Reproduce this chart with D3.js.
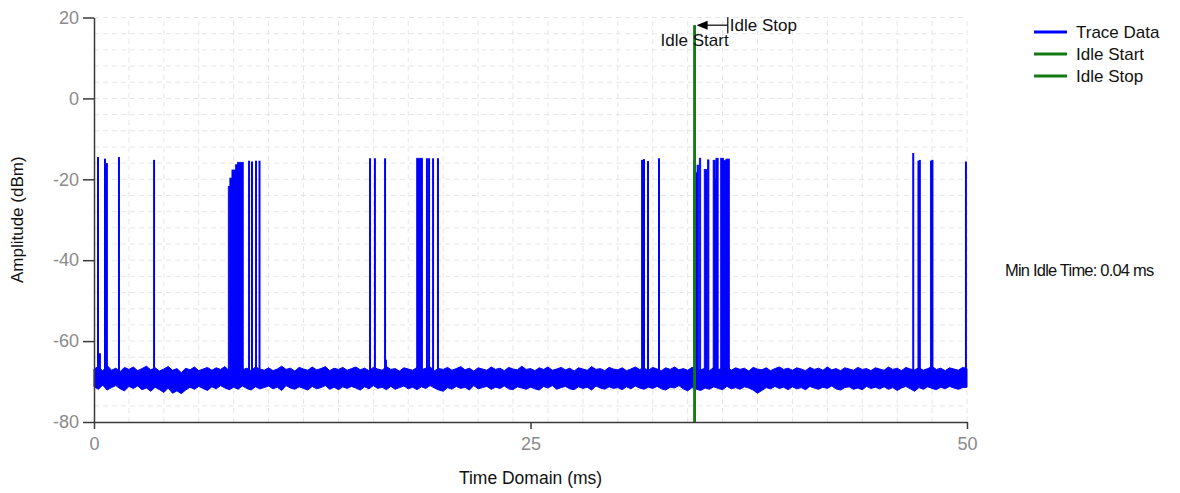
<!DOCTYPE html>
<html>
<head>
    <meta charset="utf-8">
    <title>Idle Trace</title>
    <style>
        body { margin: 0; background: #fff; }
        svg { font-family: "Liberation Sans", Arial, sans-serif; }
        .grid line { stroke: #e6e6e6; stroke-width: 1; stroke-dasharray: 5,4; }
        .axis path, .axis line { stroke: #3a3a3a; stroke-width: 1.5; }
        .axis text { fill: #8a8a8a; font-size: 18px; }
    </style>
</head>
<body>
<div id="chart"></div>

<script src="https://d3js.org/d3.v7.min.js"></script>
<script>
    // noise floor envelope, one value every 0.25 ms (t = 0 .. 50)
    const noiseStep = 0.25;
    const noiseHigh = [
        -66.9, -66.3, -67.4, -66.0, -67.2, -66.7, -67.5, -66.5, -67.0, -66.4, -67.3, -66.8, -66.2, -67.1, -66.6, -67.4, -66.9, -66.3, -67.2, -66.8,
        -67.8, -66.7, -67.1, -66.4, -67.3, -66.9, -66.5, -67.2, -66.6, -67.0, -66.3, -67.4, -66.8, -66.5, -67.1, -66.7, -67.3, -66.4, -66.9, -67.2,
        -66.6, -67.3, -66.9, -66.2, -67.0, -66.7, -67.4, -66.5, -66.9, -67.2, -66.4, -67.1, -66.8, -66.3, -67.3, -66.7, -67.0, -66.5, -67.2, -66.8,
        -66.4, -67.1, -66.7, -67.3, -66.5, -66.9, -67.2, -66.3, -67.0, -66.8, -67.4, -66.6, -66.9, -67.2, -66.5, -67.1, -66.7, -66.4, -67.3, -66.8,
        -67.0, -66.5, -67.2, -66.8, -66.3, -67.1, -66.7, -67.4, -66.6, -66.9, -67.2, -66.4, -67.0, -66.7, -67.3, -66.5, -66.9, -67.1, -66.2, -67.0,
        -66.8, -67.3, -66.6, -67.0, -66.4, -67.2, -66.9, -66.5, -67.1, -66.7, -67.4, -66.6, -66.9, -67.2, -66.3, -67.0, -66.8, -67.3, -66.5, -66.9,
        -67.1, -66.6, -67.3, -66.9, -66.4, -67.0, -66.7, -67.2, -66.5, -66.9, -67.3, -66.6, -67.0, -66.4, -67.1, -66.8, -67.2, -66.5, -66.9, -67.1,
        -66.7, -67.3, -66.5, -67.0, -66.8, -66.3, -67.2, -66.6, -67.0, -66.7, -67.4, -66.5, -66.9, -67.1, -66.6, -67.3, -66.8, -66.4, -67.0, -66.7,
        -67.2, -66.6, -66.9, -67.3, -66.5, -67.0, -66.7, -67.2, -66.4, -67.1, -66.8, -67.3, -66.6, -66.9, -67.2, -66.5, -67.0, -66.8, -67.3, -66.6,
        -66.9, -67.2, -66.4, -67.0, -66.7, -67.3, -66.5, -66.9, -67.1, -66.6, -67.2, -66.8, -66.3, -67.0, -66.7, -67.3, -66.6, -66.9, -67.2, -66.5,
        -66.8
    ];
    const noiseLow = [
        -71.3, -71.9, -70.9, -72.1, -71.5, -71.0, -71.8, -72.3, -71.2, -71.7, -71.1, -72.0, -71.6, -72.4, -71.4, -72.0, -72.7, -71.6, -72.9, -72.3,
        -73.0, -72.1, -71.4, -71.9, -71.2, -71.7, -72.2, -71.3, -71.8, -71.0, -71.6, -72.0, -71.4, -71.9, -71.1, -71.7, -72.1, -71.3, -71.8, -71.5,
        -71.1, -71.8, -71.4, -72.2, -71.0, -71.6, -71.9, -71.3, -71.7, -72.1, -71.2, -71.8, -71.5, -71.0, -71.9, -71.4, -72.0, -71.3, -71.7, -71.2,
        -71.6, -72.1, -71.3, -71.8, -71.0, -71.7, -71.4, -72.0, -71.2, -71.9, -71.5, -71.1, -71.8, -71.4, -72.0, -71.3, -71.7, -71.0, -71.6, -72.1,
        -72.4, -71.5, -71.9, -71.2, -71.7, -71.4, -72.1, -71.0, -71.8, -71.5, -71.2, -71.9, -71.4, -71.7, -71.1, -71.8, -72.0, -71.3, -71.6, -71.9,
        -71.4, -71.8, -72.1, -71.2, -71.6, -71.0, -71.9, -71.5, -71.2, -71.8, -72.0, -71.3, -71.7, -71.4, -72.1, -71.1, -71.6, -71.9, -71.3, -71.7,
        -71.5, -72.0, -71.3, -71.8, -71.1, -71.6, -71.9, -71.4, -71.7, -71.2, -71.8, -72.1, -71.4, -71.6, -71.0, -71.8, -72.3, -71.5, -71.9, -72.2,
        -71.6, -71.9, -71.3, -71.7, -72.0, -71.2, -71.8, -71.5, -71.9, -71.3, -71.6, -72.1, -72.9, -72.2, -71.5, -71.8, -71.2, -71.7, -71.4, -72.0,
        -71.3, -71.8, -71.5, -72.0, -71.2, -71.6, -71.9, -71.4, -71.7, -71.1, -71.8, -72.1, -71.5, -71.3, -71.9, -71.6, -72.0, -71.2, -71.7, -71.4,
        -71.8, -71.3, -71.9, -71.5, -72.2, -71.6, -71.2, -71.8, -72.4, -71.5, -71.9, -71.3, -71.7, -72.0, -71.4, -71.8, -71.2, -71.6, -71.9, -71.5,
        -71.4
    ];

    // single bursts: time (ms) and peak (dBm)
    const spikeTimes = [0.23, 0.34, 0.63, 0.74, 1.43, 3.44, 8.88, 9.05, 9.28, 9.48,
        15.81, 16.09, 16.67, 16.72, 19.07, 19.19, 19.42, 19.70,
        31.39, 31.50, 31.73, 32.36, 46.92, 47.22, 47.30, 47.94, 48.02, 49.94];
    const spikePeaks = [-14.5, -63.0, -14.9, -16.0, -14.5, -15.2, -15.4, -15.6, -15.4, -15.4,
        -14.8, -14.8, -14.8, -64.6, -14.8, -14.8, -14.8, -14.8,
        -15.2, -15.0, -15.5, -14.8, -13.5, -15.4, -15.2, -15.4, -15.2, -15.6];

    // dense packet trains: start, end (ms) and peak level (dBm)
    const burstStart = [7.69, 7.78, 7.90, 8.10, 8.22, 18.48,
        34.36, 34.46, 34.54, 34.67, 34.95, 35.14, 35.46, 35.58, 35.62, 35.89, 36.05, 36.19];
    const burstEnd = [7.78, 7.90, 8.10, 8.22, 8.55, 18.82,
        34.46, 34.54, 34.62, 34.75, 35.11, 35.22, 35.58, 35.62, 35.75, 36.05, 36.19, 36.39];
    const burstPeak = [-21.8, -19.7, -17.7, -16.4, -15.8, -14.8,
        -15.4, -18.4, -16.5, -14.8, -17.6, -15.2, -15.3, -19.8, -14.8, -14.8, -15.4, -15.0];

    const idleStart = 34.4;
    const idleStop = 34.4;
    const idleTop = 18.1;
    const idleLabelT = 36.3;

    const xTicks = [0, 25, 50];
    const yTicks = [-80, -60, -40, -20, 0, 20];
    const legendNames = ["Trace Data", "Idle Start", "Idle Stop"];
    const legendColors = ["#0000ff", "#137a13", "#137a13"];

    const width = 1180, height = 493;
    const margin = {left: 94, top: 17.5, right: 213, bottom: 71};

    const svg = d3.select('#chart').append('svg')
        .attr('width', width)
        .attr('height', height);

    const x = d3.scaleLinear().domain([0, 50]).range([margin.left, width - margin.right]);
    const y = d3.scaleLinear().domain([-80, 20]).range([height - margin.bottom, margin.top]);

    // grid: 25 divisions each way
    const grid = svg.append('g').attr('class', 'grid');
    grid.selectAll('.gx').data(d3.range(1, 26).map(i => i * 2))
        .enter().append('line')
        .attr('x1', d => x(d)).attr('x2', d => x(d))
        .attr('y1', y(-80)).attr('y2', y(20));
    grid.selectAll('.gy').data(d3.range(1, 26).map(i => -80 + i * 4))
        .enter().append('line')
        .attr('x1', x(0)).attr('x2', x(50))
        .attr('y1', d => y(d)).attr('y2', d => y(d));

    // noise floor band
    const noise = noiseHigh.map((h, i) => ({t: i * noiseStep, hi: h, lo: noiseLow[i]}));
    svg.append('path')
        .datum(noise)
        .attr('fill', '#0000ff')
        .attr('stroke', '#0000ff')
        .attr('stroke-width', 1)
        .attr('d', d3.area().x(d => x(d.t)).y0(d => y(d.lo)).y1(d => y(d.hi)));

    // packet trains
    svg.append('g').selectAll('rect')
        .data(burstStart.map((s, i) => ({s: s, e: burstEnd[i], p: burstPeak[i]})))
        .enter().append('rect')
        .attr('x', d => x(d.s))
        .attr('width', d => x(d.e) - x(d.s))
        .attr('y', d => y(d.p))
        .attr('height', d => y(-70) - y(d.p))
        .attr('fill', '#0000ff')
        .attr('stroke', '#0000ff')
        .attr('stroke-width', 0.8);

    // single spikes
    svg.append('g').selectAll('line')
        .data(spikeTimes.map((t, i) => ({t: t, p: spikePeaks[i]})))
        .enter().append('line')
        .attr('x1', d => x(d.t)).attr('x2', d => x(d.t))
        .attr('y1', y(-70)).attr('y2', d => y(d.p))
        .attr('stroke', '#0000ff')
        .attr('stroke-width', 2);

    // idle markers
    [idleStart, idleStop].forEach(t => {
        svg.append('line')
            .attr('x1', x(t)).attr('x2', x(t))
            .attr('y1', y(-80)).attr('y2', y(idleTop))
            .attr('stroke', legendColors[1])
            .attr('stroke-width', 2.5);
    });

    // annotation arrow
    svg.append('line')
        .attr('x1', x(idleLabelT)).attr('x2', x(idleStop) + 4)
        .attr('y1', y(idleTop)).attr('y2', y(idleTop))
        .attr('stroke', '#000').attr('stroke-width', 1.2);
    svg.append('line')
        .attr('x1', x(idleLabelT)).attr('x2', x(idleLabelT))
        .attr('y1', y(idleTop) - 8).attr('y2', y(idleTop) + 8)
        .attr('stroke', '#000').attr('stroke-width', 1.2);
    const ax = x(idleStop) + 2, ay = y(idleTop);
    svg.append('path')
        .attr('d', `M${ax},${ay} L${ax + 11},${ay - 4.5} L${ax + 11},${ay + 4.5} Z`)
        .attr('fill', '#000');
    svg.append('text')
        .attr('x', x(idleLabelT) + 2).attr('y', y(idleTop) + 6)
        .attr('font-size', 17).attr('fill', '#111')
        .text('Idle Stop');
    svg.append('text')
        .attr('x', x(idleStart)).attr('y', y(idleTop) + 21)
        .attr('text-anchor', 'middle')
        .attr('font-size', 17).attr('fill', '#111')
        .text('Idle Start');

    // axes
    svg.append('g')
        .attr('class', 'axis')
        .attr('transform', `translate(0,${y(-80)})`)
        .call(d3.axisBottom(x).tickValues(xTicks).tickFormat(d => String(d))
            .tickSize(7).tickSizeOuter(0).tickPadding(8));
    svg.append('g')
        .attr('class', 'axis')
        .attr('transform', `translate(${x(0)},0)`)
        .call(d3.axisLeft(y).tickValues(yTicks).tickFormat(d => String(d))
            .tickSize(11).tickSizeOuter(0).tickPadding(4));

    svg.append('text')
        .attr('x', x(25)).attr('y', 484)
        .attr('text-anchor', 'middle')
        .attr('font-size', 17.5).attr('fill', '#111')
        .text('Time Domain (ms)');
    svg.append('text')
        .attr('transform', `translate(23,${y(-30)}) rotate(-90)`)
        .attr('text-anchor', 'middle')
        .attr('font-size', 17).attr('fill', '#111')
        .text('Amplitude (dBm)');

    // legend
    const legend = svg.append('g').attr('transform', 'translate(1034,32)');
    legendNames.forEach((name, i) => {
        legend.append('line')
            .attr('x1', 0).attr('x2', 33)
            .attr('y1', i * 22).attr('y2', i * 22)
            .attr('stroke', legendColors[i]).attr('stroke-width', 3);
        legend.append('text')
            .attr('x', 42).attr('y', i * 22 + 6)
            .attr('font-size', 17).attr('fill', '#111')
            .text(name);
    });

    svg.append('text')
        .attr('x', 1005).attr('y', 276)
        .attr('font-size', 16.5).attr('letter-spacing', -0.8).attr('fill', '#111')
        .text('Min Idle Time: 0.04 ms');
</script>
</body>
</html>
